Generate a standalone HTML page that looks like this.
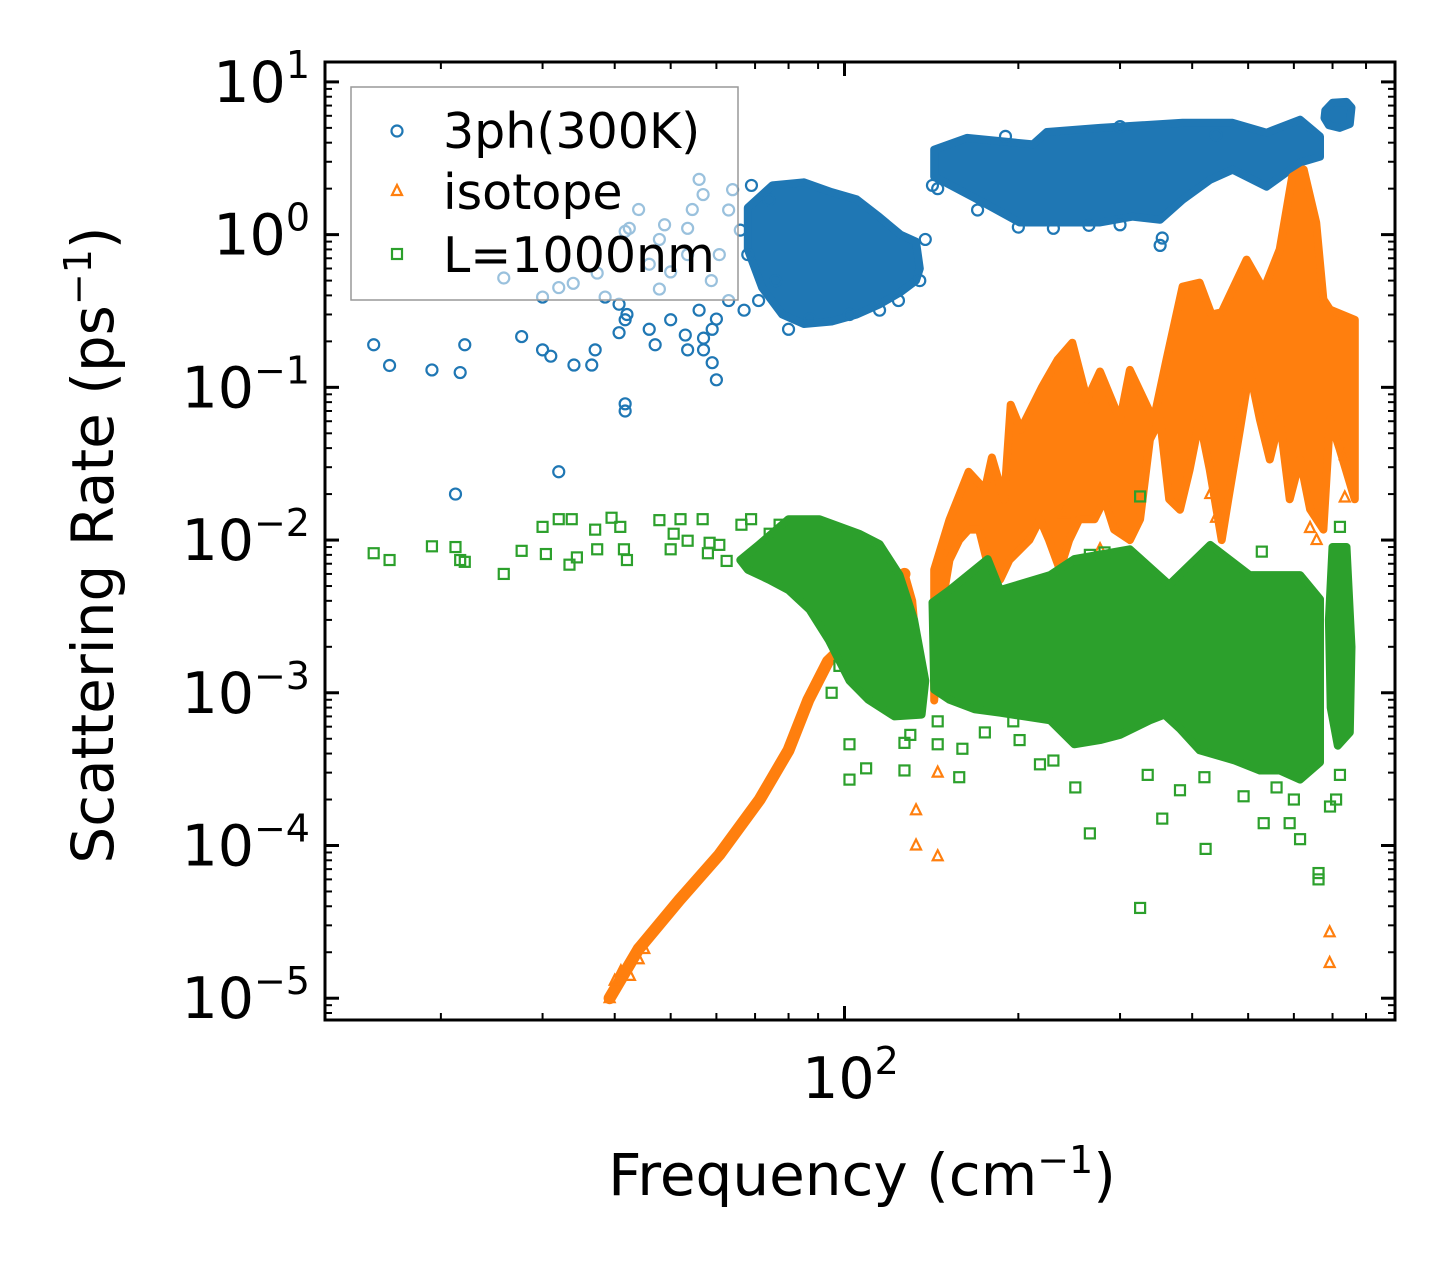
<!DOCTYPE html>
<html><head><meta charset="utf-8"><style>
html,body{margin:0;padding:0;background:#fff;}
svg{display:block;font-family:"DejaVu Sans","Liberation Sans",sans-serif;}
</style></head><body>
<svg id="chart" width="1455" height="1269" viewBox="0 0 1455 1269" xmlns="http://www.w3.org/2000/svg">
<g id="plot"></g>
<g id="axes"></g>
<g id="legend">
<rect x="351" y="87" width="387" height="213" fill="#fff" fill-opacity="0.55" stroke="#999" stroke-width="1.5"/>
<circle cx="397" cy="131" r="5.5" fill="none" stroke="#1f77b4" stroke-width="2.2"/>
<text x="443" y="148" font-size="49">3ph(300K)</text>
<path d="M397,185 L402,195 L392,195 Z" fill="none" stroke="#ff7f0e" stroke-width="2.2"/>
<text x="443" y="209" font-size="49">isotope</text>
<rect x="392" y="249" width="10" height="10" fill="none" stroke="#2ca02c" stroke-width="2.2"/>
<text x="443" y="272" font-size="49">L=1000nm</text>
</g>
<text x="862" y="1195" font-size="58" text-anchor="middle">Frequency (cm<tspan baseline-shift="super" font-size="38">−1</tspan>)</text>
<text transform="translate(113,545) rotate(-90)" font-size="58" text-anchor="middle">Scattering Rate (ps<tspan baseline-shift="super" font-size="38">−1</tspan>)</text>
</svg>
<script>
// ---- axis domains (data units) ----
const xDomain = [12.6, 898];
const yDomain = [7.2e-6, 13.5];
const yTickExps = [-5, -4, -3, -2, -1, 0, 1];
const xTickExps = [2];

// ---- 3ph (300K) series ----
const blueCloudA = [[68,1.5],[75,2.1],[85,2.2],[95,1.9],[105,1.7],[115,1.3],[125,1.0],[133,0.9],[135,0.6],[133,0.5],[125,0.42],[115,0.35],[105,0.3],[95,0.27],[85,0.26],[78,0.3],[72,0.45],[68,0.8]];
const blueBandB = [[143,3.6],[163,4.3],[212,3.9],[224,4.7],[277,5.0],[385,5.4],[470,5.4],[538,4.65],[615,5.66],[666,4.4],[666,3.24],[615,2.96],[538,2.06],[470,2.66],[430,2.29],[385,1.69],[352,1.25],[315,1.31],[277,1.2],[242,1.2],[201,1.2],[174,1.62],[143,2.4]];
const blueClusterC = [[680,6.5],[700,7.3],[740,7.4],[755,6.8],[750,5.3],[720,5.0],[690,5.2],[678,5.8]];
const bluePoints = [[15.3,0.19],[16.3,0.139],[19.3,0.13],[21.6,0.125],[22,0.19],[27.6,0.215],[30,0.176],[31,0.16],[34,0.14],[36.5,0.14],[37,0.176],[40.7,0.228],[41.7,0.277],[42,0.3],[45.9,0.24],[47,0.19],[50,0.277],[53,0.22],[53.5,0.176],[57,0.176],[59,0.145],[60,0.112],[41.7,0.078],[41.7,0.07],[32,0.028],[21.2,0.02],[57,0.21],[59,0.24],[60,0.28],[56,0.32],[63,0.37],[67,0.32],[71,0.37],[76,0.5],[68,0.74],[66,1.07],[63,1.45],[64,1.97],[69,2.1],[74,1.69],[80,0.24],[87,0.28],[102,0.3],[115,0.32],[124,0.37],[135,0.5],[138,0.93],
[25.7,0.52],[30,0.39],[32,0.45],[33.9,0.48],[37.3,0.56],[38.5,0.39],[40.7,0.35],[41.7,1.05],[42.4,1.1],[44,1.46],[47.8,0.93],[48.8,1.16],[50,0.57],[53.5,1.1],[54.5,1.46],[56,2.3],[56.9,1.83],[60.7,0.74],[58.8,0.5],[53.5,0.74],[45.9,0.64],[47.8,0.44],
[142,2.1],[145,2.0],[170,1.45],[200,1.12],[230,1.1],[265,1.15],[300,1.16],[352,0.85],[355,0.95],[440,4.5],[300,5.1],[190,4.4]];

// ---- isotope series ----
const orangeCurve = [[39.2,1e-5],[44,2.1e-5],[51.8,4.4e-5],[60.7,8.7e-5],[71.3,2e-4],[80,4.2e-4],[86.6,9e-4],[93.6,1.6e-3],[102,2.2e-3],[110,3e-3],[122,4e-3],[127,6e-3]];
const orangeSliver = [[124,0.004],[127,0.006],[131,0.004],[134,0.0015],[133,0.001],[128,0.0012],[124,0.003]];
const orangeBand = [[143,0.0064],[152,0.0136],[164,0.028],[175,0.0214],[180,0.0347],[189,0.0184],[194,0.077],[202,0.053],[220,0.101],[234,0.152],[248,0.196],[263,0.083],[277,0.127],[300,0.061],[312,0.13],[343,0.061],[361,0.152],[385,0.457],[412,0.485],[432,0.3],[450,0.31],[497,0.686],[532,0.436],[567,0.8],[596,2.4],[624,2.67],[656,1.2],[675,0.376],[693,0.323],[765,0.277],
[765,0.0185],[721,0.039],[693,0.0616],[675,0.0117],[640,0.0159],[615,0.0337],[590,0.0185],[567,0.0616],[545,0.0337],[524,0.0616],[503,0.13],[484,0.053],[462,0.0185],[450,0.01],[429,0.029],[412,0.0616],[396,0.029],[381,0.0158],[365,0.0185],[352,0.0616],[338,0.0455],[325,0.0137],[312,0.01],[293,0.0117],[282,0.0185],[271,0.0137],[255,0.0137],[245,0.01],[236,0.0064],[226,0.01],[218,0.0137],[209,0.01],[193,0.0074],[186,0.0055],[178,0.0064],[171,0.0117],[164,0.0117],[158,0.01],[152,0.0074],[146,0.003],[143,0.00089]];
const orangePoints = [[39.2,1e-5],[40,1.3e-5],[41,1.5e-5],[42.5,1.4e-5],[44,1.8e-5],[45,2.1e-5],[145,3e-4],[133,1.7e-4],[133,1e-4],[145,8.5e-5],[692,2.7e-5],[692,1.7e-5],[735,0.036],[735,0.019],[735,0.0055],[657,0.01],[440,0.014],[305,0.0074],[277,0.0087],[240,0.015],[430,0.02],[640,0.012],[153,0.0012],[155,0.0018]];

// ---- L=1000nm boundary series ----
const greenCloudLow = [[80,0.0137],[90.5,0.0137],[106,0.011],[115,0.0094],[124.5,0.0059],[132,0.003],[138,0.0012],[136,7.2e-4],[122,7e-4],[110,9e-4],[102,1.2e-3],[94,2.2e-3],[87,3.5e-3],[80,4.7e-3],[74,5.5e-3],[68,6.4e-3],[66,7.4e-3],[71,0.0093]];
const greenBand = [[142,0.0039],[152,0.0047],[177,0.0075],[186,0.0047],[227,0.0059],[250,0.0075],[312,0.0087],[365,0.0051],[430,0.0093],[503,0.0059],[615,0.0059],[666,0.0041],
[666,3.5e-4],[615,2.7e-4],[567,3.1e-4],[524,3.1e-4],[474,3.6e-4],[412,4.2e-4],[381,5.8e-4],[358,7.2e-4],[338,6.6e-4],[300,5.3e-4],[277,4.9e-4],[250,4.6e-4],[227,6.6e-4],[186,7.4e-4],[168,7.8e-4],[152,9e-4],[143,1.05e-3]];
const greenClusterR = [[700,0.009],[740,0.009],[755,0.002],[750,5.5e-4],[715,4.5e-4],[695,8e-4],[690,0.003]];
const greenPoints = [[15.3,0.0082],[16.3,0.0074],[19.3,0.0091],[21.2,0.009],[21.6,0.0074],[22,0.0072],[25.7,0.006],[27.6,0.0085],[30,0.0122],[30.4,0.0081],[32,0.0137],[33.7,0.0137],[33.4,0.0069],[34.4,0.0077],[37,0.0117],[37.3,0.0087],[39.5,0.014],[40.9,0.0122],[41.5,0.0087],[42,0.0074],[47.8,0.0135],[50,0.0087],[50.6,0.011],[52,0.0137],[53.5,0.0099],[56.8,0.0137],[58,0.0082],[58.4,0.0096],[60.7,0.0093],[62.5,0.0073],[66.3,0.0126],[68.9,0.0137],[72.8,0.0074],[74.2,0.011],[77.2,0.0126],
[102,4.6e-4],[102,2.7e-4],[109,3.2e-4],[127,3.1e-4],[127,4.7e-4],[130,5.3e-4],[145,4.6e-4],[145,6.5e-4],[95,1.0e-3],[98,1.5e-3],
[266,1.2e-4],[325,3.9e-5],[422,9.5e-5],[355,1.5e-4],[381,2.3e-4],[251,2.4e-4],[230,3.6e-4],[196,6.5e-4],[158,2.8e-4],[491,2.1e-4],[532,1.4e-4],[590,1.4e-4],[615,1.1e-4],[662,6.6e-5],[662,6e-5],[710,2e-4],[721,2.9e-4],[325,0.0193],[282,0.0083],[266,0.008],[528,0.0084],[721,0.0122],[693,1.8e-4],[335,2.9e-4],[218,3.4e-4],[201,4.9e-4],[160,4.3e-4],[175,5.5e-4],[420,2.8e-4],[560,2.4e-4],[600,2.0e-4]];

// ---- axis functions ----
const PX = {l:325, r:1395, t:62, b:1020};
const lx0 = Math.log10(xDomain[0]), lx1 = Math.log10(xDomain[1]);
const ly0 = Math.log10(yDomain[0]), ly1 = Math.log10(yDomain[1]);
function sx(v){ return PX.l + (Math.log10(v)-lx0)/(lx1-lx0)*(PX.r-PX.l); }
function sy(v){ return PX.b - (Math.log10(v)-ly0)/(ly1-ly0)*(PX.b-PX.t); }

const NS = "http://www.w3.org/2000/svg";
const plot = document.getElementById('plot');
const axes = document.getElementById('axes');
function mk(tag, parent){ const e = document.createElementNS(NS, tag); parent.appendChild(e); return e; }

function drawArea(pts, color, name){
  const p = mk('path', plot);
  p.setAttribute('d', 'M' + pts.map(d => sx(d[0]).toFixed(1) + ',' + sy(d[1]).toFixed(1)).join('L') + 'Z');
  p.setAttribute('fill', color);
  p.setAttribute('stroke', color);
  p.setAttribute('stroke-width', '8');
  p.setAttribute('stroke-linejoin', 'round');
  
  
}
function drawLine(pts, color, name){
  const p = mk('path', plot);
  p.setAttribute('d', 'M' + pts.map(d => sx(d[0]).toFixed(1) + ',' + sy(d[1]).toFixed(1)).join('L'));
  p.setAttribute('fill', 'none');
  p.setAttribute('stroke', color);
  p.setAttribute('stroke-width', '12');
  p.setAttribute('stroke-linecap', 'round');
  p.setAttribute('stroke-linejoin', 'round');
  
  
}
function drawMarkers(pts, kind, color, name){
  pts.forEach(d => {
    const x = sx(d[0]), y = sy(d[1]);
    let e;
    if (kind === 'circle'){
      e = mk('circle', plot);
      e.setAttribute('cx', x); e.setAttribute('cy', y); e.setAttribute('r', 5.5);
    } else if (kind === 'square'){
      e = mk('rect', plot);
      e.setAttribute('x', x-5); e.setAttribute('y', y-5); e.setAttribute('width', 10); e.setAttribute('height', 10);
    } else {
      e = mk('path', plot);
      e.setAttribute('d', `M${x},${y-6}L${x+5},${y+4}L${x-5},${y+4}Z`);
    }
    e.setAttribute('fill', 'none');
    e.setAttribute('stroke', color);
    e.setAttribute('stroke-width', '2.2');
    
    
  });
}

const BLUE = '#1f77b4', ORANGE = '#ff7f0e', GREEN = '#2ca02c';
drawArea(blueCloudA, BLUE, 'three-phonon-cloud-low');
drawArea(blueBandB, BLUE, 'three-phonon-band');
drawArea(blueClusterC, BLUE, 'three-phonon-cluster-high');
drawMarkers(bluePoints, 'circle', BLUE, 'three-phonon-point');
drawLine(orangeCurve, ORANGE, 'isotope-low-curve');
drawArea(orangeSliver, ORANGE, 'isotope-sliver');
drawArea(orangeBand, ORANGE, 'isotope-band');
drawMarkers(orangePoints, 'triangle', ORANGE, 'isotope-point');
drawArea(greenCloudLow, GREEN, 'boundary-cloud-low');
drawArea(greenBand, GREEN, 'boundary-band');
drawArea(greenClusterR, GREEN, 'boundary-cluster-high');
drawMarkers(greenPoints, 'square', GREEN, 'boundary-point');

// ---- frame and ticks ----
const frame = mk('rect', axes);
frame.setAttribute('x', PX.l); frame.setAttribute('y', PX.t);
frame.setAttribute('width', PX.r-PX.l); frame.setAttribute('height', PX.b-PX.t);
frame.setAttribute('fill', 'none'); frame.setAttribute('stroke', '#000'); frame.setAttribute('stroke-width', '3');



function tick(x1,y1,x2,y2,w){
  const l = mk('line', axes);
  l.setAttribute('x1',x1); l.setAttribute('y1',y1); l.setAttribute('x2',x2); l.setAttribute('y2',y2);
  l.setAttribute('stroke','#000'); l.setAttribute('stroke-width', w);
  
  
}
for (let e = -6; e <= 1; e++){
  for (let m = 1; m <= 9; m++){
    const v = m * Math.pow(10, e);
    if (v < yDomain[0] || v > yDomain[1]) continue;
    const y = sy(v), len = m === 1 ? 14 : 7, w = m === 1 ? 3 : 2;
    tick(PX.l, y, PX.l+len, y, w);
    tick(PX.r, y, PX.r-len, y, w);
  }
}
for (let e = 1; e <= 2; e++){
  for (let m = 1; m <= 9; m++){
    const v = m * Math.pow(10, e);
    if (v < xDomain[0] || v > xDomain[1]) continue;
    const x = sx(v), len = m === 1 ? 14 : 7, w = m === 1 ? 3 : 2;
    tick(x, PX.b, x, PX.b-len, w);
    tick(x, PX.t, x, PX.t+len, w);
  }
}
yTickExps.forEach(e => {
  const t = mk('text', axes);
  t.setAttribute('x', 310); t.setAttribute('y', sy(Math.pow(10,e)) + 20);
  t.setAttribute('text-anchor', 'end'); t.setAttribute('font-size', '57');
  
  
  t.innerHTML = '10<tspan dy="-24" font-size="38">' + (e < 0 ? '−' + (-e) : e) + '</tspan>';
});
xTickExps.forEach(e => {
  const t = mk('text', axes);
  t.setAttribute('x', sx(Math.pow(10,e)) + 6); t.setAttribute('y', 1098);
  t.setAttribute('text-anchor', 'middle'); t.setAttribute('font-size', '57');
  
  
  t.innerHTML = '10<tspan dy="-24" font-size="38">' + e + '</tspan>';
});
document.getElementById('chart').appendChild(document.getElementById('legend'));
</script>
</body></html>
